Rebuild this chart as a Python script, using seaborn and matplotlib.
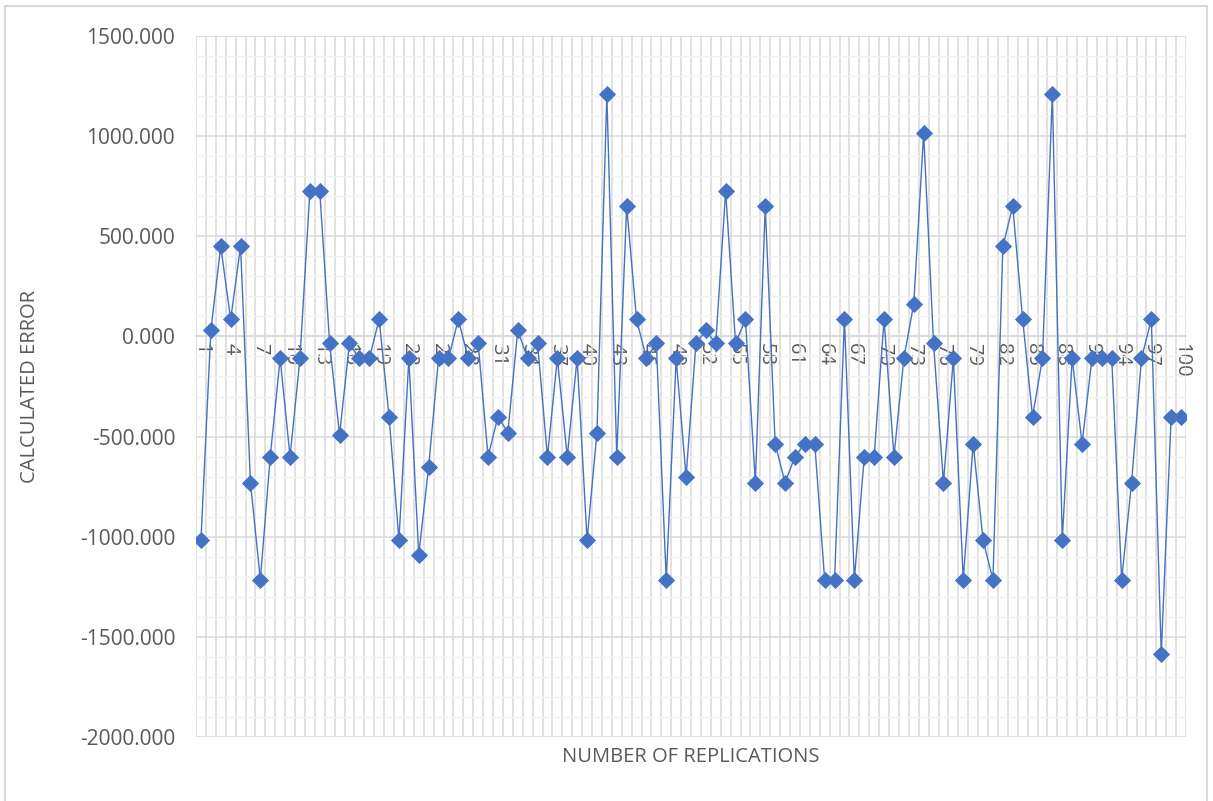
import matplotlib
matplotlib.use("Agg")
import matplotlib.pyplot as plt
import matplotlib.patches as mpatches
from matplotlib.ticker import MultipleLocator, FixedLocator, FuncFormatter
import numpy as np
import seaborn as sns

# Replication number and calculated error
replication = list(range(1, 101))
calculated_error = [
    -1017, 30, 450, 85, 450, -730, -1215, -600, -110, -600,
    -110, 725, 725, -35, -490, -35, -110, -110, 85, -400,
    -1017, -110, -1090, -650, -110, -110, 85, -110, -35, -600,
    -400, -480, 30, -110, -35, -600, -110, -600, -110, -1017,
    -480, 1210, -600, 650, 85, -110, -35, -1215, -110, -700,
    -35, 30, -35, 725, -35, 85, -730, 650, -535, -730,
    -600, -535, -535, -1215, -1215, 85, -1215, -600, -600, 85,
    -600, -110, 163, 1015, -35, -730, -110, -1215, -535, -1017,
    -1215, 450, 650, 85, -400, -110, 1210, -1017, -110, -535,
    -110, -110, -110, -1215, -730, -110, 85, -1585, -400, -400,
]
x_ticks = list(range(1, 101, 3))
y_ticks = [-2000, -1500, -1000, -500, 0, 500, 1000, 1500]

# Clean white theme, then pick the fonts
sns.set_theme(style="white")
plt.rcParams["font.family"] = ["Open Sans", "DejaVu Sans"]

text_grey = "#595959"
series_blue = "#4472C4"

fig = plt.figure(figsize=(12.13, 8.01), dpi=100)
ax = fig.add_axes([196 / 1213, 1 - 737 / 801, 990 / 1213, 701 / 801])

# Series line with diamond markers
sns.lineplot(x=replication, y=calculated_error, ax=ax,
             estimator=None, color=series_blue, linewidth=1.0,
             marker="D", markersize=8.6, markeredgewidth=0.6,
             markeredgecolor=series_blue, zorder=3)

# Axis limits and ticks
ax.set_xlim(0.5, 100.5)
ax.set_ylim(-2000, 1500)
ax.xaxis.set_major_locator(FixedLocator(x_ticks))
ax.xaxis.set_minor_locator(FixedLocator(np.arange(0.5, 101, 1)))
ax.yaxis.set_major_locator(FixedLocator(y_ticks))
ax.yaxis.set_minor_locator(MultipleLocator(100))
ax.yaxis.set_major_formatter(FuncFormatter(lambda v, p: f"{v:.3f}"))

# Gridlines: category boundaries vertically, 500 major / 100 minor horizontally
ax.grid(False)
ax.grid(which="minor", axis="x", color="#d9d9d9", linewidth=1.1)
ax.grid(which="minor", axis="y", color="#f2f2f2", linewidth=1.0)
ax.grid(which="major", axis="y", color="#d9d9d9", linewidth=1.1)

# Category axis sits on the zero line
for side in ["top", "right", "left"]:
    ax.spines[side].set_visible(False)
ax.spines["bottom"].set_position(("data", 0))
ax.spines["bottom"].set_color("#d9d9d9")
ax.spines["bottom"].set_linewidth(1.1)

ax.tick_params(axis="both", which="both", length=0)
ax.tick_params(axis="x", labelsize=14.5, labelcolor=text_grey, pad=5)
ax.tick_params(axis="y", labelsize=15, labelcolor=text_grey, pad=15)
for lab in ax.get_xticklabels():
    lab.set_rotation(-90)
    lab.set_ha("center")
    lab.set_va("top")

# Axis titles
ax.set_xlabel("NUMBER OF REPLICATIONS", fontsize=14.5, color=text_grey)
ax.xaxis.set_label_coords(0.5, -0.014)
ax.set_ylabel("CALCULATED ERROR", fontsize=14.5, color=text_grey, va="center")
ax.yaxis.set_label_coords((30 - 196) / 990, 0.5)

# Chart area border
fig.patches.append(mpatches.Rectangle((5 / 1213, -0.01), 1202 / 1213, 1.0025,
                                      transform=fig.transFigure, fill=False,
                                      edgecolor="#d9d9d9", linewidth=1.5))

fig.savefig("out.png", dpi=100)
